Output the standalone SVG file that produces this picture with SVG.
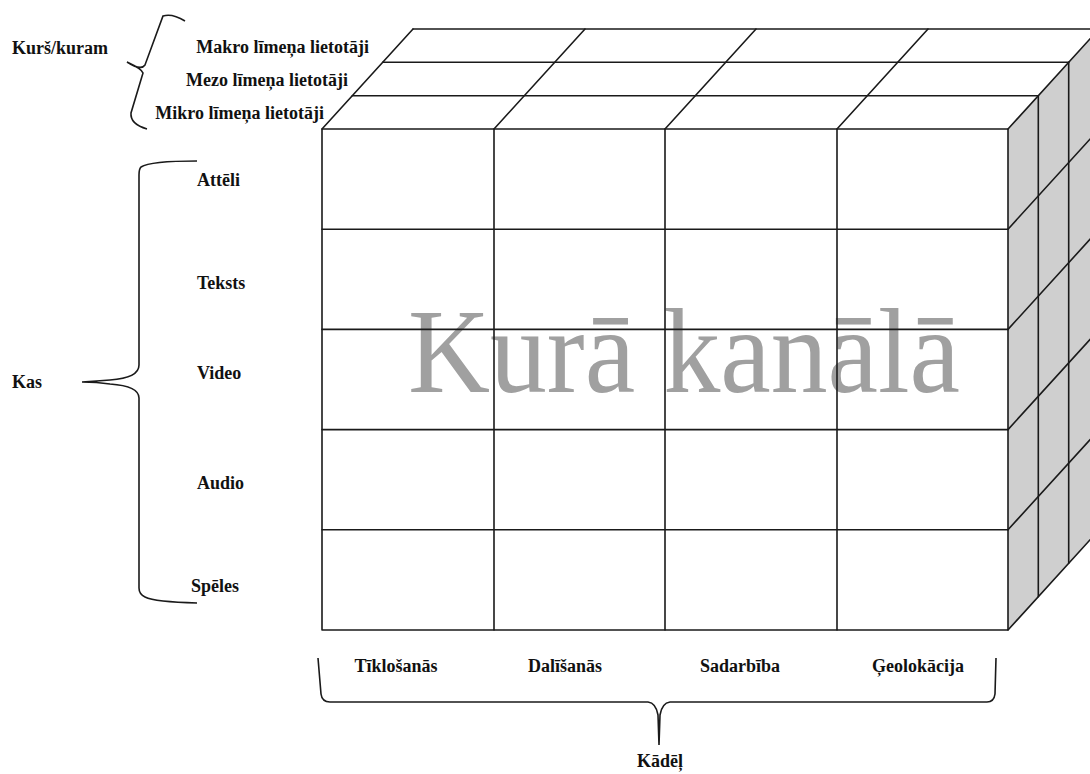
<svg xmlns="http://www.w3.org/2000/svg" width="1090" height="774" viewBox="0 0 1090 774">
<style>
.g{stroke:#1a1a1a;stroke-width:1.6;fill:none;stroke-linecap:round;stroke-linejoin:round}
.b{stroke:#1a1a1a;stroke-width:1.6;fill:none}
.t{font-family:"Liberation Serif","Times New Roman",serif;font-weight:bold;font-size:18px;fill:#111}
.w{font-family:"Liberation Serif","Times New Roman",serif;font-size:120px;fill:#a0a0a0}
</style>
<rect width="1090" height="774" fill="#fff"/>
<g id="cube">
  <polygon points="1008,129 1099,29 1099,530 1008,630" fill="#cfcfcf"/>
  <polygon points="322,129 413,29 1099,29 1008,129" fill="#fff"/>
  <rect x="322" y="129" width="686" height="501" fill="#fff"/>
  <text class="w" x="408" y="392" textLength="552" lengthAdjust="spacingAndGlyphs">Kurā kanālā</text>
  <g class="g">
    <rect x="322" y="129" width="686" height="501"/>
    <path d="M494,129V630M665,129V630M837,129V630"/>
    <path d="M322,229.2H1008M322,329.4H1008M322,429.6H1008M322,529.8H1008"/>
    <path d="M352.3,95.7H1038.3M382.7,62.3H1068.7M413,29H1099"/>
    <path d="M322,129L413,29M494,129L585,29M665,129L756,29M837,129L928,29M1008,129L1099,29"/>
    <path d="M1038.3,95.7V596.7M1068.7,62.3V563.3"/>
    <path d="M1008,229.2L1099,129.2M1008,329.4L1099,229.4M1008,429.6L1099,329.6M1008,529.8L1099,429.8M1008,630L1099,530"/>
  </g>
</g>
<g id="connectors">
  <path class="b" d="M185,21 Q172,13 163,16 L145,65 Q141,71 127,62 Q142,69 143,73 L131,113 Q130,124 147,129"/>
  <path class="b" d="M197,161 Q150,161 141,167 Q139,169 139,175 L139,365 Q139,378 110,380 Q97,381 82,382 Q97,382 110,384 Q139,386 139,398 L139,588 Q139,594 145,597 Q155,602 197,603"/>
  <path class="b" d="M318,658 L321,694 Q322,702 330,702 L648,702 Q656,703 658,715 L659,745 L660,715 Q662,703 670,702 L987,702 Q994,702 995,694 L996,658"/>
</g>
<g id="label-kursh"><text class="t" x="12" y="54">Kurš/kuram</text></g>
<g id="label-makro"><text class="t" x="369" y="53" text-anchor="end">Makro līmeņa lietotāji</text></g>
<g id="label-mezo"><text class="t" x="348" y="86" text-anchor="end">Mezo līmeņa lietotāji</text></g>
<g id="label-mikro"><text class="t" x="324" y="119" text-anchor="end">Mikro līmeņa lietotāji</text></g>
<g id="label-kas"><text class="t" x="12" y="388">Kas</text></g>
<g id="label-atteli"><text class="t" x="197" y="186">Attēli</text></g>
<g id="label-teksts"><text class="t" x="197" y="289">Teksts</text></g>
<g id="label-video"><text class="t" x="197" y="379">Video</text></g>
<g id="label-audio"><text class="t" x="197" y="489">Audio</text></g>
<g id="label-speles"><text class="t" x="191" y="592">Spēles</text></g>
<g id="label-tiklosanas"><text class="t" x="396" y="672" text-anchor="middle">Tīklošanās</text></g>
<g id="label-dalisanas"><text class="t" x="565" y="672" text-anchor="middle">Dalīšanās</text></g>
<g id="label-sadarbiba"><text class="t" x="740" y="672" text-anchor="middle">Sadarbība</text></g>
<g id="label-geolokacija"><text class="t" x="918" y="672" text-anchor="middle">Ģeolokācija</text></g>
<g id="label-kadel"><text class="t" x="660" y="767" text-anchor="middle">Kādēļ</text></g>
</svg>
